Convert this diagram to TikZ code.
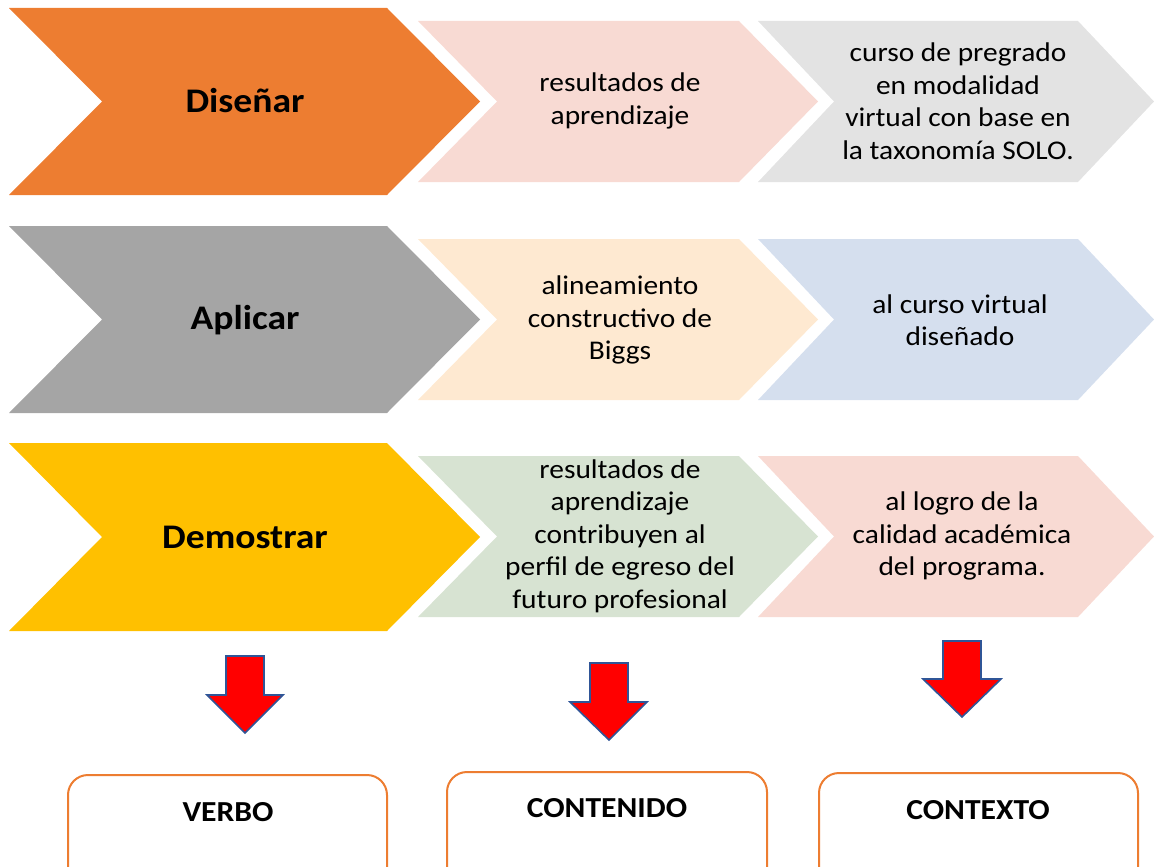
\documentclass[tikz,border=0pt]{standalone}
\usepackage{fontspec}
\setmainfont{Carlito}[FakeStretch=1.09]
\definecolor{cOrange}{HTML}{ED7D31}
\definecolor{cGray}{HTML}{A5A5A5}
\definecolor{cYellow}{HTML}{FFC000}
\definecolor{cPink}{HTML}{F8DAD3}
\definecolor{cLGray}{HTML}{E3E3E3}
\definecolor{cPeach}{HTML}{FEE9D1}
\definecolor{cBlue}{HTML}{D5DFEE}
\definecolor{cGreen}{HTML}{D7E3D2}
\definecolor{cArrowLine}{HTML}{2F5597}
\begin{document}
\begin{tikzpicture}[x=1pt,y=-1pt,
  bigtxt/.style={font=\fontsize{34.5}{40}\selectfont\bfseries, text=black, inner sep=0pt},
  smalltxt/.style={font=\fontsize{27}{32.5}\selectfont, text=black, align=center, inner sep=0pt},
  boxtxt/.style={font=\fontsize{29}{34}\selectfont\bfseries, text=black, inner sep=0pt},
  rbox/.style={draw=cOrange, line width=2pt, rounded corners=20pt, fill=white},
  redarrow/.style={fill=red, draw=cArrowLine, line width=1.6pt, line join=miter}
]
\useasboundingbox (0,0) rectangle (1154,867);
\clip (0,0) rectangle (1154,867);

% chevron: #1 fill, #2 left x, #3 tip x, #4 top y, #5 bottom y, #6 depth
\newcommand{\chevshape}[6]{%
  \fill[#1] (#2,#4) -- ({#3-#6},#4) -- (#3,{(#4+#5)/2}) -- ({#3-#6},#5) -- (#2,#5) -- ({#2+#6},{(#4+#5)/2}) -- cycle;}

% Row 1
\chevshape{cOrange}{9}{480}{8}{195}{93}
\chevshape{cPink}{418}{818}{21}{182}{79}
\chevshape{cLGray}{758}{1154}{21}{182}{76}
\node[bigtxt] (t1) at (245,101) {Diseñar};
\node[smalltxt] (t2) at (620,101) {resultados de\\aprendizaje};
\node[smalltxt] (t3) at (958,101) {curso de pregrado\\en modalidad\\virtual con base en\\la taxonomía SOLO.};

% Row 2
\chevshape{cGray}{9}{480}{226}{413}{93}
\chevshape{cPeach}{418}{818}{239}{400}{79}
\chevshape{cBlue}{758}{1154}{239}{400}{76}
\node[bigtxt] (t4) at (245,320) {Aplicar};
\node[smalltxt] (t5) at (620,320) {alineamiento\\constructivo de\\Biggs};
\node[smalltxt] (t6) at (960,320) {al curso virtual\\diseñado};

% Row 3
\chevshape{cYellow}{9}{480}{443}{631}{93}
\chevshape{cGreen}{418}{818}{456}{617}{79}
\chevshape{cPink}{758}{1154}{456}{617}{76}
\node[bigtxt] (t7) at (245,537) {Demostrar};
\node[smalltxt] (t8) at (620,536) {resultados de\\aprendizaje\\contribuyen al\\perfil de egreso del\\futuro profesional};
\node[smalltxt] (t9) at (962,536) {al logro de la\\calidad académica\\del programa.};

% Red arrows
\draw[redarrow] (226,656) -- (264,656) -- (264,695) -- (283,695) -- (245,733) -- (207,695) -- (226,695) -- cycle;
\draw[redarrow] (590,663) -- (628,663) -- (628,702) -- (647,702) -- (609,740) -- (570,702) -- (590,702) -- cycle;
\draw[redarrow] (943,641) -- (981,641) -- (981,679) -- (1001,679) -- (962,717) -- (923,679) -- (943,679) -- cycle;

% Bottom boxes
\draw[rbox] (68,775) rectangle (387,900);
\draw[rbox] (447,772) rectangle (767,900);
\draw[rbox] (819,773) rectangle (1138,900);
\node[boxtxt] (b1) at (228,812) {VERBO};
\node[boxtxt] (b2) at (607,808) {CONTENIDO};
\node[boxtxt] (b3) at (978,810) {CONTEXTO};
\end{tikzpicture}
\end{document}
